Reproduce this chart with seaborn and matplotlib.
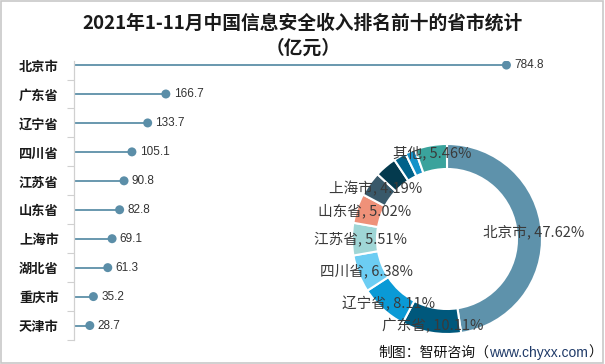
import matplotlib.pyplot as plt
import pandas as pd
import seaborn as sns
from matplotlib.patches import Rectangle

# data
provinces = ['北京市', '广东省', '辽宁省', '四川省', '江苏省', '山东省', '上海市', '湖北省', '重庆市', '天津市']
revenue = [784.8, 166.7, 133.7, 105.1, 90.8, 82.8, 69.1, 61.3, 35.2, 28.7]

pie_names = ['北京市', '广东省', '辽宁省', '四川省', '江苏省', '山东省', '上海市', '湖北省', '重庆市', '天津市', '其他']
pie_share = [47.62, 10.11, 8.11, 6.38, 5.51, 5.02, 4.19, 3.72, 2.14, 1.74, 5.46]
pie_show = [True, True, True, True, True, True, True, False, False, False, True]
pie_colors = ['#5e92ab', '#00587c', '#0a9ad6', '#6ccdf3', '#9fd6d6', '#ef9179',
              '#39596a', '#043a4e', '#00628a', '#1592c9', '#3aa39c']

title_1 = '2021年1-11月中国信息安全收入排名前十的省市统计'
title_2 = '（亿元）'

df = pd.DataFrame({'province': provinces, 'value': revenue})

sns.set_theme(style='white')
plt.rcParams['font.family'] = ['Noto Sans CJK SC', 'DejaVu Sans']

fig = plt.figure(figsize=(6.05, 3.64), dpi=100)
fig.patch.set_facecolor('white')

# lollipop chart
ax = fig.add_axes([74 / 605, 1 - 340 / 364, 551 / 605, 279 / 364])
ax.hlines(y=range(len(df)), xmin=0, xmax=df['value'], color='#4f86a1', lw=1.2, zorder=1)
sns.scatterplot(data=df, x='value', y='province', ax=ax, color='#5b8ea8', s=42,
                edgecolor='none', zorder=2)
for i, v in enumerate(df['value']):
    ax.text(v + 14, i, f'{v:.1f}', va='center', ha='left', fontsize=8.5,
            color='#333333', family=['Liberation Sans', 'DejaVu Sans'])
ax.set_xlim(0, 1000)
ax.set_ylim(9.48, -0.14)
ax.set_xlabel('')
ax.set_ylabel('')
ax.set_xticks([])
ax.set_yticks(range(len(df)))
ax.set_yticklabels(provinces, fontsize=9.5, fontweight='bold', color='#1a1a1a')
ax.set_yticks([i + 0.5 for i in range(len(df))], minor=True)
ax.tick_params(axis='y', which='major', length=0, pad=11)
ax.tick_params(axis='y', which='minor', left=True, length=5, color='#d0d0d0', width=0.8)
for s in ['top', 'right', 'bottom']:
    ax.spines[s].set_visible(False)
ax.spines['left'].set_color('#d0d0d0')
ax.spines['left'].set_linewidth(0.9)
ax.patch.set_alpha(0)

# donut chart
ax2 = fig.add_axes([347 / 605, 1 - 339 / 364, 200 / 605, 200 / 364])
labels = [f'{n}, {p:.2f}%' if show else '' for n, p, show in zip(pie_names, pie_share, pie_show)]
wedges, texts = ax2.pie(pie_share, labels=labels, colors=pie_colors, startangle=90,
                        counterclock=False, radius=0.95, labeldistance=0.87 / 0.95,
                        wedgeprops=dict(width=0.25, edgecolor='white', linewidth=1.5),
                        textprops=dict(fontsize=10.5, color='#3a3a3a'))
for t in texts:
    t.set_ha('center')
    t.set_va('center')
ax2.set_xlim(-1, 1)
ax2.set_ylim(-1, 1)
ax2.set_aspect('equal')

# title
fig.text(303 / 605, 1 - 23 / 364, title_1, ha='center', va='center', fontsize=13.5,
         fontweight='bold', color='#1a1a1a')
fig.text(303 / 605, 1 - 48 / 364, title_2, ha='center', va='center', fontsize=13.5,
         fontweight='bold', color='#1a1a1a')

# source note
fig.canvas.draw()
r = fig.canvas.get_renderer()
t1 = fig.text(378 / 605, 1 - 353 / 364, '制图：智研咨询（', ha='left', va='center',
              fontsize=10, color='#111111')
bb = t1.get_window_extent(r)
t2 = fig.text(bb.x1 / 605, 1 - 353 / 364, 'www.chyxx.com', ha='left', va='center',
              fontsize=10, color='#1f3a68', family=['Liberation Sans', 'DejaVu Sans'])
bb = t2.get_window_extent(r)
fig.text(bb.x1 / 605, 1 - 353 / 364, '）', ha='left', va='center', fontsize=10, color='#111111')

# frame
fig.add_artist(Rectangle((0.002, 0.003), 0.995, 0.994, transform=fig.transFigure,
                         fill=False, edgecolor='#c8c8c8', lw=1.2))

fig.savefig('out.png', dpi=100)
